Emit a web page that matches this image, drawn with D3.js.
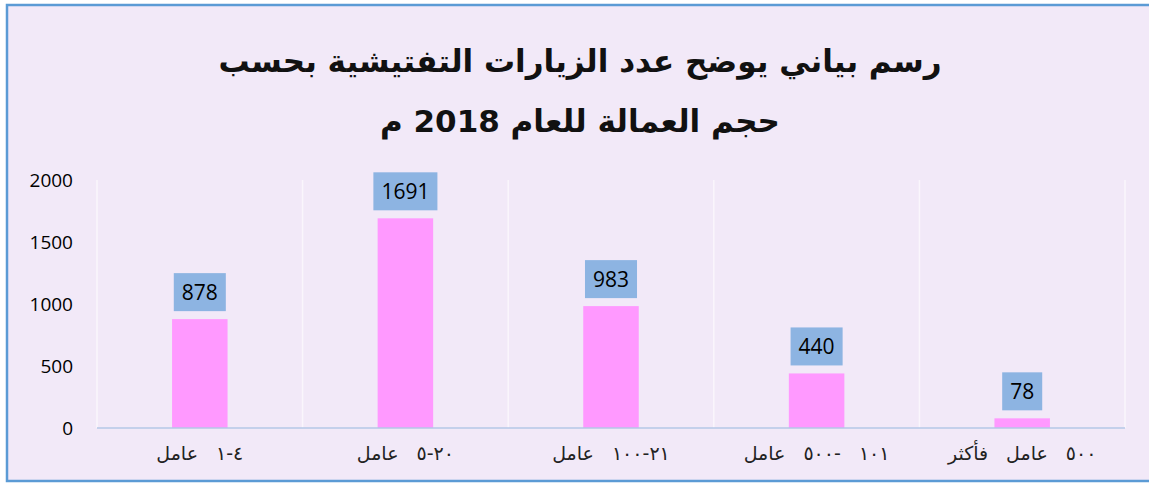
<!DOCTYPE html>
<html>
<head>
<meta charset="utf-8">
<script src="https://cdn.jsdelivr.net/npm/d3@7"></script>
<style>
  body { margin: 0; background: #ffffff; }
  svg { display: block; }
</style>
</head>
<body>
<svg id="chart"></svg>
<script>
const WIDTH = 1149, HEIGHT = 485;

// data
const categories = ["٤-١ عامل", "٢٠-٥ عامل", "٢١-١٠٠ عامل", "١٠١ -٥٠٠ عامل", "٥٠٠ عامل فأكثر"];
const visits = [878, 1691, 983, 440, 78];
const yTicks = [0, 500, 1000, 1500, 2000];
const titleLines = ["رسم بياني يوضح عدد الزيارات التفتيشية بحسب", "حجم العمالة للعام 2018 م"];

const margin = { top: 180, bottom: 57, left: 97, right: 24 };
const width = WIDTH - margin.left - margin.right,
      height = HEIGHT - margin.top - margin.bottom;

const svg = d3.select('svg#chart')
    .attr('width', WIDTH)
    .attr('height', HEIGHT);

// chart area background + border
svg.append('rect')
    .attr('x', 7).attr('y', 5)
    .attr('width', WIDTH + 30).attr('height', 476)
    .attr('fill', '#f2e9f8')
    .attr('stroke', '#5b9bd5')
    .attr('stroke-width', 2.5);

// title
svg.append('g').attr('id', 'title')
  .selectAll('text')
  .data(titleLines)
  .enter()
  .append('text')
    .attr('x', 580)
    .attr('y', (d, i) => 72 + i * 60)
    .attr('text-anchor', 'middle')
    .attr('direction', 'rtl')
    .style('font-family', '"DejaVu Sans", sans-serif')
    .style('font-weight', 'bold')
    .style('font-size', '31px')
    .attr('fill', '#111')
    .text(d => d);

const plot = svg.append('g')
    .attr('transform', `translate(${margin.left}, ${margin.top})`);

const x = d3.scaleBand()
    .domain(categories)
    .range([0, width])
    .padding(0);

const y = d3.scaleLinear()
    .domain([0, 2000])
    .range([height, 0]);

// vertical separators between categories
plot.append('g').attr('id', 'grid')
  .selectAll('line')
  .data(d3.range(categories.length + 1))
  .enter()
  .append('line')
    .attr('x1', i => i * x.step())
    .attr('x2', i => i * x.step())
    .attr('y1', 0)
    .attr('y2', height)
    .attr('stroke', '#faf6fc')
    .attr('stroke-width', 1.5);

// y axis (labels only)
const yAxis = plot.append('g')
    .call(d3.axisLeft(y).tickValues(yTicks).tickFormat(d3.format('d')).tickSize(0).tickPadding(24));
yAxis.select('.domain').remove();
yAxis.selectAll('text')
    .style('font-family', '"Open Sans", sans-serif')
    .style('font-size', '19px')
    .attr('fill', '#000');

// bars
const barW = x.bandwidth() * 0.27;
plot.append('g').attr('id', 'bars')
  .selectAll('rect')
  .data(visits)
  .enter()
  .append('rect')
    .attr('x', (d, i) => x(categories[i]) + (x.bandwidth() - barW) / 2)
    .attr('y', d => y(d))
    .attr('width', barW)
    .attr('height', d => height - y(d))
    .attr('fill', '#ff99ff');

// baseline
plot.append('line')
    .attr('x1', 0).attr('x2', width)
    .attr('y1', height).attr('y2', height)
    .attr('stroke', '#b4c7e7')
    .attr('stroke-width', 1.5);

// value labels in blue boxes
const labels = plot.append('g').attr('id', 'labels')
  .selectAll('g')
  .data(visits)
  .enter()
  .append('g')
    .attr('transform', (d, i) => `translate(${x(categories[i]) + x.bandwidth() / 2}, ${y(d) - 8})`);

labels.append('text')
    .attr('y', -11)
    .attr('text-anchor', 'middle')
    .style('font-family', '"Open Sans", sans-serif')
    .style('font-size', '21px')
    .attr('fill', '#000')
    .text(d => d);

labels.each(function () {
  const g = d3.select(this);
  const w = g.select('text').node().getComputedTextLength() + 16;
  g.insert('rect', 'text')
      .attr('x', -w / 2)
      .attr('y', -38)
      .attr('width', w)
      .attr('height', 38)
      .attr('fill', '#8db4e2');
});

// category labels
plot.append('g').attr('id', 'categories')
  .selectAll('text')
  .data(categories)
  .enter()
  .append('text')
    .attr('x', d => x(d) + x.bandwidth() / 2)
    .attr('y', height + 32)
    .attr('text-anchor', 'middle')
    .attr('direction', 'rtl')
    .style('font-family', '"DejaVu Sans", sans-serif')
    .style('font-size', '19px')
    .style('word-spacing', '12px')
    .attr('fill', '#222')
    .text(d => d);
</script>
</body>
</html>
